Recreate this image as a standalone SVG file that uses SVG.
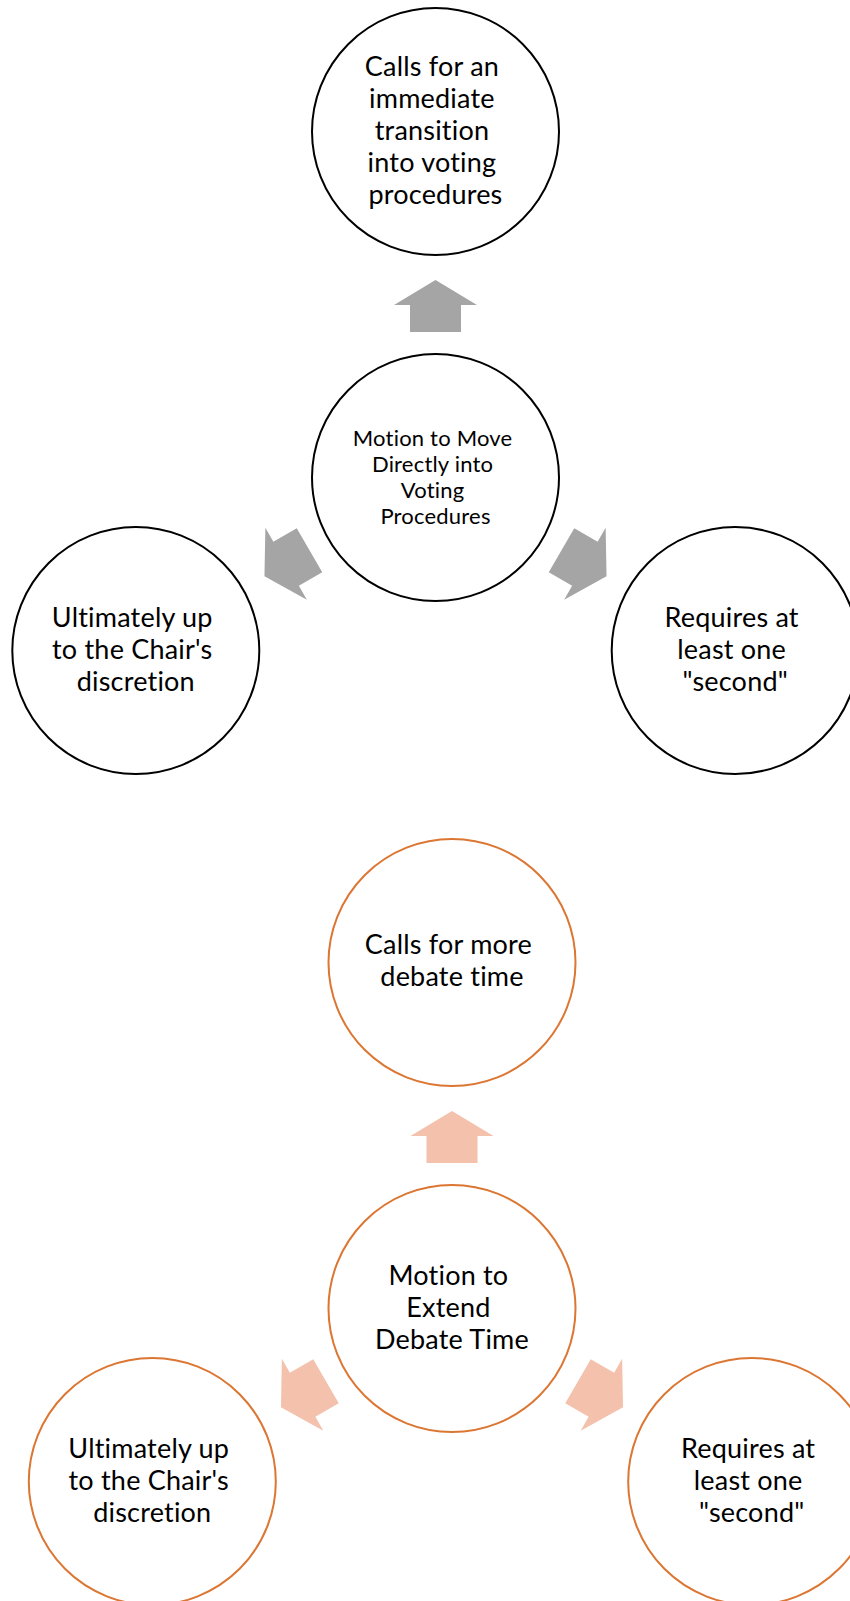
<svg xmlns="http://www.w3.org/2000/svg" xmlns:xlink="http://www.w3.org/1999/xlink" width="850" height="1601" viewBox="0 0 850 1601">
  <style>
    .bg { fill: #ffffff; }
    .node-a { fill: #ffffff; stroke: #000000; stroke-width: 2; }
    .node-b { fill: #ffffff; stroke: #DC7633; stroke-width: 2; }
    .arrow-a { fill: #A5A5A5; }
    .arrow-b { fill: #F4C1AD; }
    /* a small letter-spacing keeps the "ti" pairs as separate glyphs */
    .lbl { font-family: Lato, "Open Sans", sans-serif; font-size: 27px; fill: #000000; text-anchor: middle;
           letter-spacing: 0.2px; font-variant-ligatures: none; }
    .lbl-sm { font-size: 22px; }
  </style>
  <defs>
    <!-- block arrow pointing up, placed 171.5px from the hub centre -->
    <path id="spoke" d="M0,-197.5 L41.5,-172.5 L25.5,-172.5 L25.5,-145.5 L-25.5,-145.5 L-25.5,-172.5 L-41.5,-172.5 Z"/>
  </defs>
  <rect class="bg" x="0" y="0" width="850" height="1601"/>

  <!-- Motion to Move Directly into Voting Procedures -->
  <g id="connectors-voting" class="arrow-a">
    <use xlink:href="#spoke" href="#spoke" transform="translate(435.5,477.5)"/>
    <use xlink:href="#spoke" href="#spoke" transform="translate(435.5,477.5) rotate(120)"/>
    <use xlink:href="#spoke" href="#spoke" transform="translate(435.5,477.5) rotate(-120)"/>
  </g>
  <g id="voting-hub">
    <circle class="node-a" cx="435.5" cy="477.5" r="123.5"/>
    <text class="lbl lbl-sm">
      <tspan x="435.5" y="446">Motion to Move</tspan>
      <tspan x="435.5" y="472">Directly into</tspan>
      <tspan x="435.5" y="498">Voting</tspan>
      <tspan x="435.5" y="524">Procedures</tspan>
    </text>
  </g>
  <g id="voting-immediate">
    <circle class="node-a" cx="435.5" cy="131.5" r="123.5"/>
    <text class="lbl">
      <tspan x="435.5" y="75.5">Calls for an</tspan>
      <tspan x="435.5" y="107.5">immediate</tspan>
      <tspan x="435.5" y="139.5">transition</tspan>
      <tspan x="435.5" y="171.5">into voting</tspan>
      <tspan x="435.5" y="203.5">procedures</tspan>
    </text>
  </g>
  <g id="voting-chair">
    <circle class="node-a" cx="135.8" cy="650.5" r="123.5"/>
    <text class="lbl">
      <tspan x="135.8" y="626.5">Ultimately up</tspan>
      <tspan x="135.8" y="658.5">to the Chair's</tspan>
      <tspan x="135.8" y="690.5">discretion</tspan>
    </text>
  </g>
  <g id="voting-second">
    <circle class="node-a" cx="735.2" cy="650.5" r="123.5"/>
    <text class="lbl">
      <tspan x="735.2" y="626.5">Requires at</tspan>
      <tspan x="735.2" y="658.5">least one</tspan>
      <tspan x="735.2" y="690.5">"second"</tspan>
    </text>
  </g>

  <!-- Motion to Extend Debate Time -->
  <g id="connectors-extend" class="arrow-b">
    <use xlink:href="#spoke" href="#spoke" transform="translate(452,1308.5)"/>
    <use xlink:href="#spoke" href="#spoke" transform="translate(452,1308.5) rotate(120)"/>
    <use xlink:href="#spoke" href="#spoke" transform="translate(452,1308.5) rotate(-120)"/>
  </g>
  <g id="extend-hub">
    <circle class="node-b" cx="452" cy="1308.5" r="123.5"/>
    <text class="lbl">
      <tspan x="452" y="1285">Motion to</tspan>
      <tspan x="452" y="1317">Extend</tspan>
      <tspan x="452" y="1349">Debate Time</tspan>
    </text>
  </g>
  <g id="extend-time">
    <circle class="node-b" cx="452" cy="962.5" r="123.5"/>
    <text class="lbl">
      <tspan x="452" y="954">Calls for more</tspan>
      <tspan x="452" y="986">debate time</tspan>
    </text>
  </g>
  <g id="extend-chair">
    <circle class="node-b" cx="152.3" cy="1481.5" r="123.5"/>
    <text class="lbl">
      <tspan x="152.3" y="1457.5">Ultimately up</tspan>
      <tspan x="152.3" y="1489.5">to the Chair's</tspan>
      <tspan x="152.3" y="1521.5">discretion</tspan>
    </text>
  </g>
  <g id="extend-second">
    <circle class="node-b" cx="751.7" cy="1481.5" r="123.5"/>
    <text class="lbl">
      <tspan x="751.7" y="1457.5">Requires at</tspan>
      <tspan x="751.7" y="1489.5">least one</tspan>
      <tspan x="751.7" y="1521.5">"second"</tspan>
    </text>
  </g>
</svg>
